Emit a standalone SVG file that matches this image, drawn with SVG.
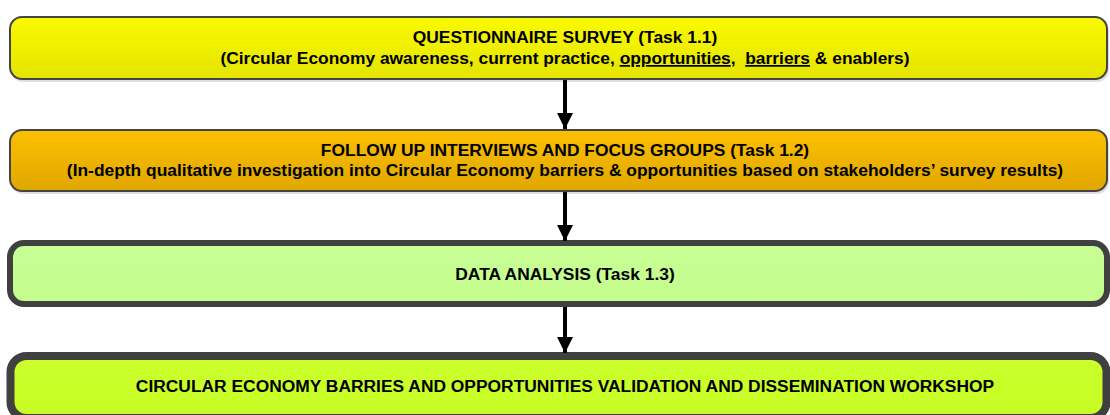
<svg xmlns="http://www.w3.org/2000/svg" width="1110" height="415" viewBox="0 0 1110 415">
<defs>
<linearGradient id="gY" x1="0" y1="0" x2="0" y2="1"><stop offset="0" stop-color="#fafa00"/><stop offset="1" stop-color="#e4e400"/></linearGradient>
<linearGradient id="gO" x1="0" y1="0" x2="0" y2="1"><stop offset="0" stop-color="#fcc000"/><stop offset="1" stop-color="#e0a700"/></linearGradient>
<linearGradient id="gG" x1="0" y1="0" x2="0" y2="1"><stop offset="0" stop-color="#c8fe96"/><stop offset="1" stop-color="#c4fc8c"/></linearGradient>
<linearGradient id="gL" x1="0" y1="0" x2="0" y2="1"><stop offset="0" stop-color="#ccff2e"/><stop offset="1" stop-color="#c6fc22"/></linearGradient>
<marker id="ah" viewBox="0 0 10 10" refX="10" refY="5" markerWidth="4" markerHeight="4" markerUnits="strokeWidth" orient="auto"><path d="M0,0 L10,5 L0,10 z" fill="#000"/></marker>
</defs>
<style>
.sh{fill:#000;opacity:0.12}
.t{font-family:"Liberation Sans",Arial,sans-serif;font-weight:bold;font-size:17.4px;fill:#000;text-anchor:middle}
.u{text-decoration:underline}
.c{stroke:#000;stroke-width:4;fill:none}
</style>
<g id="n1">
<rect class="sh" x="11" y="20" width="1098" height="62" rx="12"/>
<rect x="10" y="17" width="1097" height="62" rx="12" fill="url(#gY)" stroke="#444" stroke-width="2"/>
<text class="t" x="565" y="43">QUESTIONNAIRE SURVEY (Task 1.1)</text>
<text class="t" x="565" y="64" xml:space="preserve">(Circular Economy awareness, current practice, <tspan class="u">opportunities</tspan>,  <tspan class="u">barriers</tspan> &amp; enablers)</text>
</g>
<g id="n2">
<rect class="sh" x="11" y="133" width="1098" height="61" rx="12"/>
<rect x="10" y="130" width="1097" height="61" rx="12" fill="url(#gO)" stroke="#444" stroke-width="2"/>
<text class="t" x="565" y="156">FOLLOW UP INTERVIEWS AND FOCUS GROUPS (Task 1.2)</text>
<text class="t" x="565" y="176">(In-depth qualitative investigation into Circular Economy barriers &amp; opportunities based on stakeholders’ survey results)</text>
</g>
<g id="n3">
<rect class="sh" x="10" y="246" width="1098" height="61" rx="14"/>
<rect x="10" y="243" width="1097" height="61" rx="14" fill="url(#gG)" stroke="#404040" stroke-width="6"/>
<text class="t" x="565" y="280">DATA ANALYSIS (Task 1.3)</text>
</g>
<g id="n4">
<rect x="10.5" y="356" width="1096" height="62" rx="16" fill="url(#gL)" stroke="#404040" stroke-width="8"/>
<text class="t" x="565" y="392">CIRCULAR ECONOMY BARRIES AND OPPORTUNITIES VALIDATION AND DISSEMINATION WORKSHOP</text>
</g>
<g id="connectors">
<line class="c" x1="565" y1="80" x2="565" y2="129" marker-end="url(#ah)"/>
<line class="c" x1="565" y1="192" x2="565" y2="241" marker-end="url(#ah)"/>
<line class="c" x1="565" y1="307" x2="565" y2="353" marker-end="url(#ah)"/>
</g>
</svg>
